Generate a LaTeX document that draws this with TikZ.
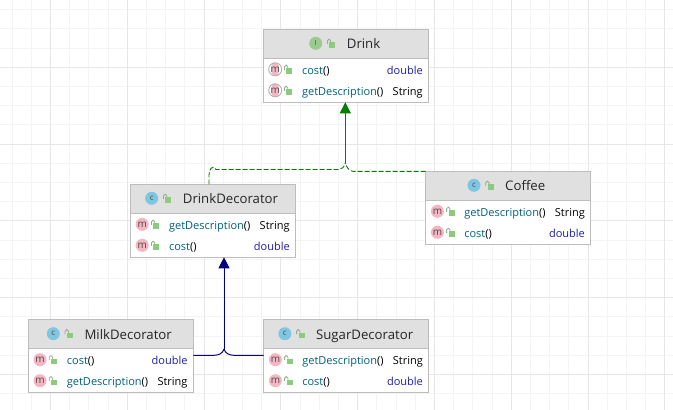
\documentclass[tikz,border=0pt]{standalone}
\usepackage{fontspec}
\setmainfont{Open Sans}
\usetikzlibrary{arrows.meta,positioning,calc}
\definecolor{gridMajor}{HTML}{E6E6E6}
\definecolor{gridMinor}{HTML}{F4F4F4}
\definecolor{boxLine}  {HTML}{BDBDBD}
\definecolor{headFill} {HTML}{E0E0E0}
\definecolor{methPink} {HTML}{F5B5C2}
\definecolor{methInk}  {HTML}{4A4A4A}
\definecolor{classBlue}{HTML}{7FC6E2}
\definecolor{ifaceGrn} {HTML}{9CC98E}
\definecolor{lockGrn}  {HTML}{8CCB7E}
\definecolor{lockLine} {HTML}{8FB088}
\definecolor{absRing}  {HTML}{B0B0B0}
\definecolor{nameTeal} {HTML}{00627A}
\definecolor{typeBlue} {HTML}{1D1DB0}
\definecolor{implGrn}  {HTML}{008000}
\definecolor{extNavy}  {HTML}{000080}
% one class box: id, left, top, icon offset, icon style, letter, title
\newcommand{\classbox}[7]{
  \node[body] (#1) at (#2,#3) {};
  \node[head] (#1head) at (#1.north west) {};
  \node[#5] (#1icon) at ([shift={(#4,14)}]#1.north west) {#6};
  \pic at ([shift={(#4+15.5,14)}]#1.north west) {padlock};
  \node[titletext] (#1title) at ([shift={(#4+31,14.5)}]#1.north west) {#7};
}
% one member row: box id, row id, y offset, icon style, name, type, type colour
\newcommand{\memberrow}[7]{
  \node[#4] (#1#2icon) at ([shift={(11.7,#3)}]#1.north west) {m};
  \pic at ([shift={(24.7,#3)}]#1.north west) {padlock};
  \node[membertext] (#1#2) at ([shift={(38.4,#3)}]#1.north west)
     {\textcolor{nameTeal}{#5}\textcolor{black}{()}};
  \node[typetext,text=#7] (#1#2type) at ([shift={(-5.6,#3)}]#1.north east) {#6};
}
\begin{document}
\begin{tikzpicture}[
  x=1pt, y=-1pt,
  body/.style={rectangle, draw=boxLine, line width=1pt, fill=white, anchor=north west,
               minimum width=165pt, minimum height=73pt, inner sep=0pt, outer sep=0pt},
  head/.style={rectangle, draw=boxLine, line width=1pt, fill=headFill, anchor=north west,
               minimum width=165pt, minimum height=29pt, inner sep=0pt, outer sep=0pt},
  iconbase/.style={circle, minimum size=13pt, inner sep=0pt, text=methInk,
                   font=\fontsize{10}{10}\selectfont},
  meth/.style={iconbase, fill=methPink},
  absmeth/.style={iconbase, draw=absRing, line width=0.9pt, fill=white,
                  path picture={\fill[methPink] (path picture bounding box.center) ellipse (4pt and 7pt);}},
  cls/.style={iconbase, fill=classBlue, font=\fontsize{8}{8}\selectfont},
  iface/.style={iconbase, fill=ifaceGrn, font=\fontsize{7}{7}\selectfont},
  titletext/.style={anchor=west, inner sep=0pt, text height=10pt, text depth=3pt, yshift=-1.6pt,
                    font=\fontsize{13.2}{15}\selectfont, text=black!85},
  membertext/.style={anchor=west, inner sep=0pt, text height=9pt, text depth=3pt, yshift=-1.7pt,
                     font=\fontsize{11}{13}\selectfont},
  typetext/.style={anchor=east, inner sep=0pt, text height=9pt, text depth=3pt, yshift=-1.7pt,
                   font=\fontsize{11}{13}\selectfont},
  padlock/.pic={
    \fill[lockGrn] (-1.8,-1.2) rectangle (4.2,4.2);
    \draw[lockLine, line width=0.8pt] (-3.8,0.5) -- (-3.8,-2.5) arc[start angle=180, end angle=0, radius=1.7pt] -- (-0.4,-1.2);
  },
  impl/.style={implGrn, line width=0.9pt},
  ext/.style={extNavy, line width=1pt},
  tip/.style={-{Triangle[length=11pt,width=11pt]}}
]
\useasboundingbox (0,0) rectangle (673,410);
\fill[white] (0,0) rectangle (673,410);
% grid
\foreach \k in {-2,...,33} {
  \draw[gridMinor, line width=1pt] (12.1+19.2*\k,0) -- (12.1+19.2*\k,410);
}
\foreach \k in {-3,...,21} {
  \draw[gridMinor, line width=1pt] (0,67.3+19.2*\k) -- (673,67.3+19.2*\k);
}
\foreach \k in {0,...,8} {
  \draw[gridMajor, line width=1pt] (50.5+76.8*\k,0) -- (50.5+76.8*\k,410);
}
\foreach \k in {-1,...,4} {
  \draw[gridMajor, line width=1pt] (0,67.3+76.8*\k) -- (673,67.3+76.8*\k);
}

\classbox{drink}{263.5}{29.3}{52.2}{iface}{I}{Drink}
\memberrow{drink}{cost}{40}{absmeth}{cost}{double}{typeBlue}
\memberrow{drink}{desc}{61}{absmeth}{getDescription}{String}{black}

\classbox{decorator}{130.5}{184.3}{21.2}{cls}{c}{DrinkDecorator}
\memberrow{decorator}{desc}{40}{meth}{getDescription}{String}{black}
\memberrow{decorator}{cost}{61}{meth}{cost}{double}{typeBlue}

\classbox{coffee}{425.7}{171.3}{48.3}{cls}{c}{Coffee}
\memberrow{coffee}{desc}{40}{meth}{getDescription}{String}{black}
\memberrow{coffee}{cost}{61}{meth}{cost}{double}{typeBlue}

\classbox{milk}{28.3}{319.7}{25}{cls}{c}{MilkDecorator}
\memberrow{milk}{cost}{40}{meth}{cost}{double}{typeBlue}
\memberrow{milk}{desc}{61}{meth}{getDescription}{String}{black}

\classbox{sugar}{263.7}{319.7}{21.2}{cls}{c}{SugarDecorator}
\memberrow{sugar}{desc}{40}{meth}{getDescription}{String}{black}
\memberrow{sugar}{cost}{61}{meth}{cost}{double}{typeBlue}

\coordinate (implJoin) at (345.3,163);
\coordinate (extJoin) at (224,349);

\draw[impl, dashed, dash pattern=on 5pt off 2pt] ([xshift=-4pt]decorator.north) -- +(0,-9)
   .. controls +(0,-5.5) and +(-4,-5.5) .. (216,169.5) -- (339,169.5)
   .. controls (342,169.5) and (344,167) .. (implJoin);
\draw[impl, dashed, dash pattern=on 5pt off 2pt] (coffee.north west) -- (353,171.3)
   .. controls (349,171.3) and (346.5,167) .. (implJoin);
\draw[impl, tip] (implJoin) -- (drink.south -| implJoin);

\draw[ext] (milk.east |- 0,355.3) -- (214,355.3) .. controls (219,355.3) and (223,353) .. (extJoin);
\draw[ext] (sugar.west |- 0,355.3) -- (234,355.3) .. controls (229,355.3) and (225,353) .. (extJoin);
\draw[ext, tip] (extJoin) -- (decorator.south -| extJoin);
\end{tikzpicture}
\end{document}
